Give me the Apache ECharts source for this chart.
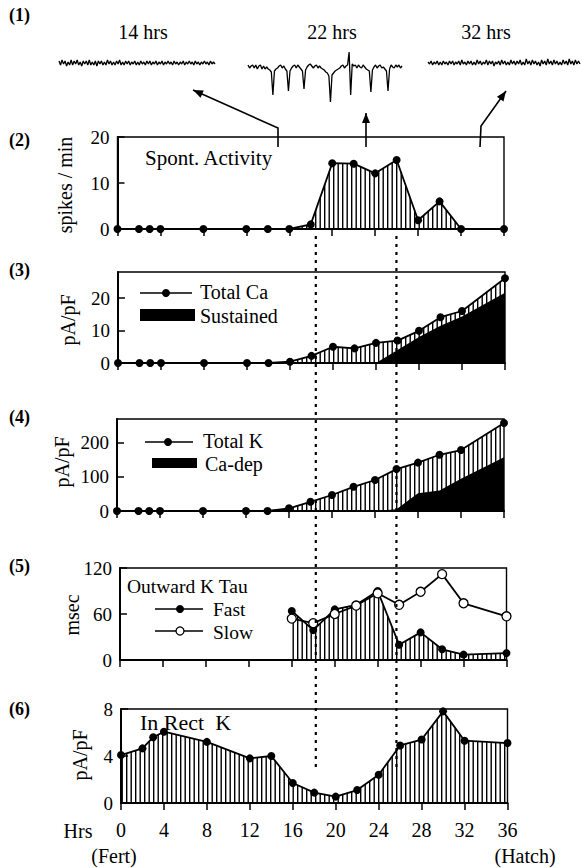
<!DOCTYPE html>
<html>
<head>
<meta charset="utf-8">
<script src="https://cdn.jsdelivr.net/npm/echarts@6/dist/echarts.min.js"></script>
<style>
  html, body { margin: 0; padding: 0; background: #fff; }
  #chart { width: 582px; height: 868px; }
</style>
</head>
<body>
<div id="chart"></div>
<script>
// ---- recorded traces (arbitrary units, baseline 0) ----
const trace14 = [2,-2,3,-1,2,-3,1,-2,3,-2,2,-1,3,-2,1,-3,2,-1,2,-2,3,-2,1,-2,2,-3,2,-1,2,-2,1,-2,3,-1,2,-2,1,-2,2,-1,3,-2,1,-2,2,-1,2,-2,1,-1,2,-2,1,-2,2,-1,1,-2,2,-1,2,-2,1,-1,2,-2,1,-1,2,-2,1,-1,2,-1,1,-2,2,-1,1,-2,1,-1,2,-2,1,-1,2,-1,1,-2,2,-1,1,-2,1,-1,2,-1,1,-2,2,-1,1,-1];
const trace22 = [2,-1,1,2,-1,2,-2,1,2,-2,1,-2,0,-2,-3,-5,
  -28,
  -4,-2,-1,1,2,-1,1,-2,-4,
  -24,
  -4,-1,1,2,-1,2,0,-2,-4,
  -22,
  -3,0,2,3,1,-1,1,2,-1,1,-1,-2,-3,-5,-6,-9,
  -35,
  -8,-6,-4,-3,-2,-1,1,2,-1,1,2,15,
  -28,
  3,1,2,-1,2,0,-1,2,0,-2,-3,-4,
  -25,
  -3,0,2,-1,1,2,-1,0,-2,-4,
  -24,
  -2,2,0,-1,2,0,2,-1,1];
const trace32 = [1,-1,2,-2,1,-1,2,-2,1,-2,2,-1,1,-2,2,-1,2,-2,1,-1,2,-2,3,-1,1,-2,2,-1,2,-2,1,-2,3,-1,2,-2,1,-1,3,-2,2,-1,2,-3,1,-1,2,-2,3,-1,2,-2,1,-2,3,-1,2,-2,2,-1,3,-2,1,-2,4,-1,2,-2,3,-1,2,-2,1,-3,3,-1,2,-2,4,-1,2,-2,3,-1,2,-2,1,-2,3,-1,2,-2,4,-1,2,-2,3,-1,2,-1];
const traceLabels = ['14 hrs', '22 hrs', '32 hrs'];

// ---- developmental time course (hours after fertilization) ----
const sampleHrs = [0, 2, 3, 4, 8, 12, 14, 16, 18, 20, 22, 24, 26, 28, 30, 32, 36];
const spikeRate = [0, 0, 0, 0, 0, 0, 0, 0, 1, 14.3, 14.2, 12.1, 15, 1.9, 6, 0, 0];
const caTotal   = [0, 0, 0, 0, 0, 0, 0, 0.4, 2.2, 5.0, 4.5, 6.2, 6.9, 9.9, 14.1, 16.0, 26.1];
const kTotal    = [0, 0, 0, 0, 0, 0, 0, 8, 27, 47, 71, 91, 123, 142, 165, 179, 258];
const inRectK   = [4.08, 4.65, 5.6, 6.07, 5.2, 3.8, 4.0, 1.7, 0.88, 0.54, 1.1, 2.4, 4.9, 5.4, 7.8, 5.3, 5.1];

const lateHrs     = [24, 26, 28, 30, 32, 36];
const caSustained = [0, 4, 8, 11.5, 14.3, 21.6];
const kCaDep      = [0, 5, 52, 60, 95, 158];

const tauHrs  = [16, 18, 20, 22, 24, 26, 28, 30, 32, 36];
const tauFast = [64, 39, 66, 72, 90, 20, 36, 14, 7, 9];
const tauSlow = [54, 48, 60, 71, 87, 72, 89, 112, 74, 57];

// y-axis scales per panel: [max, tick values]
const yMax   = [20, 28, 270, 120, 8];
const yTicks = [[0, 10, 20], [0, 10, 20], [0, 100, 200], [0, 60, 120], [0, 4, 8]];
const yTitles = ['spikes / min', 'pA/pF', 'pA/pF', 'msec', 'pA/pF'];
const panelTags = ['(1)', '(2)', '(3)', '(4)', '(5)', '(6)'];
const guideHrs = [18.4, 25.9];

const SERIF = '"Liberation Serif", "Times New Roman", serif';
const zip = (xs, ys) => xs.map((x, i) => [x, ys[i]]);

function hatchPattern() {
  const c = document.createElement('canvas');
  c.width = 9; c.height = 4;
  const g = c.getContext('2d');
  g.fillStyle = '#000';
  g.fillRect(0, 0, 1.4, 4);
  g.fillRect(4.5, 0, 1.4, 4);
  return { image: c, repeat: 'repeat', imageWidth: 9, imageHeight: 4 };
}
const HATCH = hatchPattern();

// ---- layout ----
const traceGrids = [
  { left: 59,  top: 43, width: 156, height: 60 },
  { left: 248, top: 47, width: 154, height: 60 },
  { left: 428, top: 43, width: 152, height: 60 }
];
const panelGrids = [
  { left: 117.5, right: 78,   top: 137, height: 92 },
  { left: 118,   right: 77,   top: 272, height: 91 },
  { left: 117,   right: 78,   top: 419, height: 92 },
  { left: 120,   right: 75.5, top: 568, height: 92 },
  { left: 121,   right: 74.5, top: 709, height: 94 }
];

const grids = [];
const xAxes = [];
const yAxes = [];
traceGrids.forEach((g, i) => {
  grids.push(Object.assign({ show: false, outerBoundsMode: 'none', containLabel: false }, g));
  xAxes.push({ type: 'category', gridIndex: i, show: false, boundaryGap: false });
  yAxes.push({ type: 'value', gridIndex: i, show: false, min: -40, max: 20 });
});
panelGrids.forEach((g, i) => {
  const gi = i + 3;
  grids.push(Object.assign({ show: true, borderColor: '#000', borderWidth: 1.4,
    backgroundColor: 'transparent', outerBoundsMode: 'none', containLabel: false }, g));
  xAxes.push({
    type: 'value', gridIndex: gi, min: 0, max: 36, interval: 4,
    axisLine: { show: true, onZero: false, lineStyle: { color: '#000', width: 2 } },
    axisTick: { show: true, inside: false, length: 7, lineStyle: { color: '#000', width: 1.5 } },
    axisLabel: { show: i === 4, color: '#000', fontFamily: SERIF, fontSize: 20, margin: 17 },
    splitLine: { show: false }
  });
  yAxes.push({
    type: 'value', gridIndex: gi, min: 0, max: yMax[i],
    axisLine: { show: true, onZero: false, lineStyle: { color: '#000', width: 2 } },
    axisTick: { show: true, inside: true, length: 7, customValues: yTicks[i],
      lineStyle: { color: '#000', width: 1.5 } },
    axisLabel: { color: '#000', fontFamily: SERIF, fontSize: 19, margin: 8, customValues: yTicks[i] },
    splitLine: { show: false }
  });
});

function traceSeries(data, idx) {
  return {
    type: 'line', xAxisIndex: idx, yAxisIndex: idx, data: data,
    symbol: 'none', lineStyle: { color: '#000', width: 1.3 }, silent: true
  };
}
function dotLine(data, idx, opts) {
  return Object.assign({
    type: 'line', xAxisIndex: idx, yAxisIndex: idx, data: data,
    symbol: 'circle', symbolSize: 8, showSymbol: true,
    itemStyle: { color: '#000' },
    lineStyle: { color: '#000', width: 1.8 },
    z: 5
  }, opts || {});
}
function blackArea(data, idx) {
  return {
    type: 'line', xAxisIndex: idx, yAxisIndex: idx, data: data,
    symbol: 'none', lineStyle: { width: 0 },
    areaStyle: { color: '#000', opacity: 1 }, z: 4
  };
}

const series = [
  traceSeries(trace14, 0),
  traceSeries(trace22, 1),
  traceSeries(trace32, 2),
  dotLine(zip(sampleHrs, spikeRate), 3, { areaStyle: { color: HATCH, opacity: 1 } }),
  blackArea(zip(lateHrs, caSustained), 4),
  dotLine(zip(sampleHrs, caTotal), 4, { areaStyle: { color: HATCH, opacity: 1 } }),
  blackArea(zip(lateHrs, kCaDep), 5),
  dotLine(zip(sampleHrs, kTotal), 5, { areaStyle: { color: HATCH, opacity: 1 } }),
  dotLine(zip(tauHrs, tauFast), 6, { areaStyle: { color: HATCH, opacity: 1 } }),
  dotLine(zip(tauHrs, tauSlow), 6, {
    symbolSize: 9, z: 6,
    itemStyle: { color: '#fff', borderColor: '#000', borderWidth: 1.3 },
    lineStyle: { color: '#000', width: 1.8 }
  }),
  dotLine(zip(sampleHrs, inRectK), 7, { areaStyle: { color: HATCH, opacity: 1 } })
];

// ---- annotation helpers ----
function txt(text, x, y, size, opts) {
  opts = opts || {};
  return {
    type: 'text', x: x, y: y, rotation: opts.rotation || 0, z: 50,
    style: {
      text: text, fill: '#000',
      font: (opts.bold ? 'bold ' : '') + size + 'px ' + SERIF,
      textAlign: opts.align || 'left', align: opts.align || 'left',
      textVerticalAlign: 'middle', verticalAlign: 'middle'
    }
  };
}
function seg(x1, y1, x2, y2, w) {
  return { type: 'line', z: 50, shape: { x1: x1, y1: y1, x2: x2, y2: y2 },
    style: { stroke: '#000', lineWidth: w || 1.5 } };
}
function dot(cx, cy, open) {
  return { type: 'circle', z: 51, shape: { cx: cx, cy: cy, r: 4 },
    style: open ? { fill: '#fff', stroke: '#000', lineWidth: 1.3 } : { fill: '#000' } };
}
function arrow(points) {
  const n = points.length;
  const tip = points[n - 1], from = points[n - 2];
  const dx = tip[0] - from[0], dy = tip[1] - from[1];
  const L = Math.hypot(dx, dy), ux = dx / L, uy = dy / L;
  const len = 10, half = 4;
  const bx = tip[0] - ux * len, by = tip[1] - uy * len;
  return [
    { type: 'polyline', z: 50, shape: { points: points },
      style: { stroke: '#000', lineWidth: 1.6, fill: null } },
    { type: 'polygon', z: 50, shape: { points: [tip,
        [bx - uy * half, by + ux * half], [bx + uy * half, by - ux * half]] },
      style: { fill: '#000' } }
  ];
}

const graphics = [];
// panel tags
[15, 140, 270, 417, 566, 709].forEach((y, i) => graphics.push(txt(panelTags[i], 9, y, 18, { bold: true })));
// trace captions
[143, 332, 486].forEach((x, i) => graphics.push(txt(traceLabels[i], x, 32, 20, { align: 'center' })));
// arrows from the activity panel up to the traces
graphics.push(...arrow([[278, 147], [278, 128], [193, 90]]));
graphics.push(...arrow([[366, 147], [366, 113]]));
graphics.push(...arrow([[480, 147], [481, 126], [506, 91]]));
// y-axis titles
[[65, 185], [68, 320], [62, 462], [72, 615], [80, 755]].forEach((p, i) =>
  graphics.push(txt(yTitles[i], p[0], p[1], 20, { align: 'center', rotation: Math.PI / 2 })));
// in-panel titles and legends
graphics.push(txt('Spont. Activity', 145, 158, 21));
graphics.push(seg(140, 293, 192, 293, 1.5), dot(166, 293),
  txt('Total Ca', 200, 292, 20),
  { type: 'rect', z: 50, shape: { x: 140, y: 309, width: 55, height: 12 }, style: { fill: '#000' } },
  txt('Sustained', 200, 316, 20));
graphics.push(seg(145, 442, 193, 442, 1.5), dot(168, 442),
  txt('Total K', 203, 441, 20),
  { type: 'rect', z: 50, shape: { x: 152, y: 458, width: 45, height: 10 }, style: { fill: '#000' } },
  txt('Ca-dep', 205, 464, 20));
graphics.push(txt('Outward K Tau', 127, 586, 19.5),
  seg(155, 609, 203, 609, 1.5), dot(180, 609),
  txt('Fast', 213, 609, 19.5),
  seg(155, 631, 203, 631, 1.5), dot(180, 631, true),
  txt('Slow', 213, 632, 19.5));
graphics.push(txt('In Rect  K', 140, 722, 22));
// time axis captions
graphics.push(txt('Hrs', 78, 831, 20, { align: 'center' }),
  txt('(Fert)', 114, 856, 20, { align: 'center' }),
  txt('(Hatch)', 525, 856, 20, { align: 'center' }));

const chart = echarts.init(document.getElementById('chart'), null, { renderer: 'svg' });
chart.setOption({
  animation: false,
  backgroundColor: '#fff',
  grid: grids,
  xAxis: xAxes,
  yAxis: yAxes,
  series: series,
  graphic: { elements: graphics }
});

// dotted guides marking the onset and offset of spontaneous activity
const guides = guideHrs.map((h, i) => {
  const x = chart.convertToPixel({ gridIndex: 4 }, [h, 0])[0];
  return { type: 'line', id: 'guide' + i, z: 60, shape: { x1: x, y1: 236, x2: x, y2: 772 },
    style: { stroke: '#000', lineWidth: 2.2, lineDash: [3, 5] } };
});
chart.setOption({ graphic: { elements: graphics.concat(guides) } });
</script>
</body>
</html>
